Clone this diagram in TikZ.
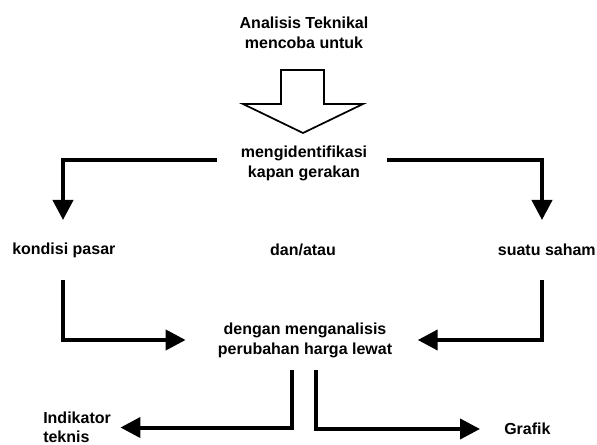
\documentclass[tikz,border=0pt]{standalone}
\usepackage{fontspec}
\setmainfont{Liberation Sans}
\usetikzlibrary{arrows.meta,calc}

\begin{document}
\begin{tikzpicture}[x=0.75pt,y=-0.75pt,
  lbl/.style={font=\fontsize{12}{15}\selectfont\bfseries, inner sep=0pt, align=center},
  conn/.style={line width=3pt, -{Triangle[length=15pt,width=15pt]}},
  blockarrow/.style={draw, line width=1.3pt, fill=white, line join=miter}]

  % canvas
  \path[use as bounding box, fill=white] (0,0) rectangle (597,445);

  % text nodes
  \node[lbl] (top) at (304,33) {Analisis Teknikal\\mencoba untuk};
  \node[lbl] (ident) at (304,163) {mengidentifikasi\\kapan gerakan};
  \node[lbl, anchor=west] (kondisi) at (12,250) {kondisi pasar};
  \node[lbl] (danatau) at (303,250) {dan/atau};
  \node[lbl, anchor=east] (saham) at (596,250) {suatu saham};
  \node[lbl] (analisis) at (305,340) {dengan menganalisis\\perubahan harga lewat};
  \node[lbl, font=\fontsize{12}{14}\selectfont\bfseries, align=left, anchor=south west]
       (indikator) at (43,443) {Indikator\\teknis};
  \node[lbl, anchor=west] (grafik) at (504,429) {Grafik};

  % hollow block arrow below the title
  \draw[blockarrow] (281,70) -- (324,70) -- (324,104) -- (363,104) -- (303,133)
        -- (243,104) -- (281,104) -- cycle;

  % turning points and free ends
  \coordinate (kIn)  at (63,220);
  \coordinate (kOut) at (63,280);
  \coordinate (sIn)  at (542,220);
  \coordinate (sOut) at (542,280);
  \coordinate (bL)   at (292,370);
  \coordinate (bR)   at (316,370);

  % from the goal down to the two subjects
  \draw[conn] ([xshift=-18pt,yshift=2pt]ident.west) -| (kIn);
  \draw[conn] ([xshift=15pt,yshift=2pt]ident.east) -| (sIn);

  % from the subjects into the analysis
  \draw[conn] (kOut) |- ([xshift=-24pt]analisis.west);
  \draw[conn] (sOut) |- ([xshift=19pt]analisis.east);

  % from the analysis out to the tools
  \draw[conn] (bL) |- ([xshift=7pt]indikator.east);
  \draw[conn] (bR) |- ([xshift=-18pt]grafik.west);
\end{tikzpicture}
\end{document}
